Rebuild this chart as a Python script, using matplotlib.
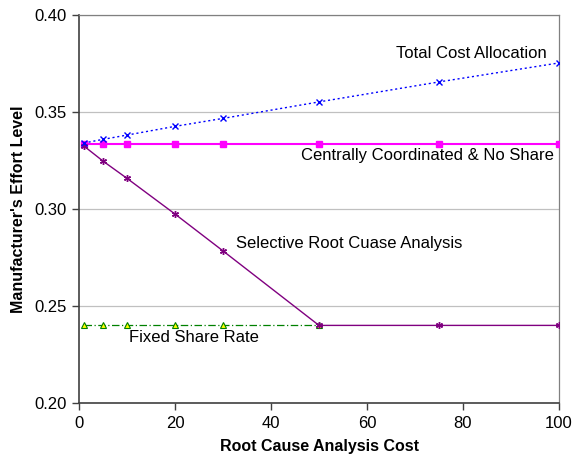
import matplotlib
matplotlib.use("Agg")
import matplotlib.pyplot as plt

plt.rcParams['font.family'] = ['Liberation Sans', 'DejaVu Sans']

x = [1, 5, 10, 20, 30, 50, 75, 100]
total_cost = [0.334, 0.3359, 0.3381, 0.3426, 0.3467, 0.3552, 0.3655, 0.3753]
central = [0.3337] * 8
selective = [0.3325, 0.3247, 0.3158, 0.2974, 0.2784, 0.240, 0.240, 0.240]
x_fixed = [1, 5, 10, 20, 30, 50]
fixed = [0.240] * 6

fig = plt.figure(figsize=(5.74, 4.61), dpi=100)
ax = fig.add_axes([79/574, 1-403/461, 480/574, 388/461])

ax.plot(x_fixed, fixed, color='#008000', ls=(0, (6, 2, 1, 2)), lw=0.9,
        marker='^', ms=4, mfc='#FFFF00', mec='#008000', mew=0.8, zorder=3)
ax.plot(x, central, color='#FF00FF', lw=1.5, marker='s', ms=4,
        mfc='#FF00FF', mec='#FF00FF', zorder=4)
ax.plot(x, selective, color='#800080', lw=1.0, marker=(6, 2, 0), ms=5,
        mew=1.0, zorder=5)
ax.plot(x, total_cost, color='#0000FF', ls=(0, (1.5, 2)), lw=1.0,
        marker='x', ms=4, mew=1.0, zorder=6)

ax.set_xlim(0, 100)
ax.set_ylim(0.20, 0.40)
ax.set_xticks([0, 20, 40, 60, 80, 100])
ax.set_yticks([0.20, 0.25, 0.30, 0.35, 0.40])
ax.set_yticklabels(['0.20', '0.25', '0.30', '0.35', '0.40'])
ax.yaxis.grid(True, color='#C0C0C0', lw=0.9)
ax.set_axisbelow(True)
for s in ['top', 'right']:
    ax.spines[s].set_color('#808080')
    ax.spines[s].set_linewidth(0.9)
for s in ['left', 'bottom']:
    ax.spines[s].set_color('#404040')
    ax.spines[s].set_linewidth(1.2)
ax.tick_params(direction='out', length=5, width=1, colors='#404040',
               labelsize=12, labelcolor='black', pad=4)

ax.set_xlabel('Root Cause Analysis Cost', fontsize=11.5, fontweight='bold', labelpad=6)
ax.set_ylabel("Manufacturer's Effort Level", fontsize=11.5, fontweight='bold', labelpad=6)

ax.text(97.4, 0.3804, 'Total Cost Allocation', ha='right', va='center', fontsize=12)
ax.text(99.0, 0.3278, 'Centrally Coordinated & No Share', ha='right', va='center', fontsize=12)
ax.text(32.7, 0.2820, 'Selective Root Cuase Analysis', ha='left', va='center', fontsize=12)
ax.text(10.5, 0.2340, 'Fixed Share Rate', ha='left', va='center', fontsize=12)

fig.savefig('out.png', dpi=100)
